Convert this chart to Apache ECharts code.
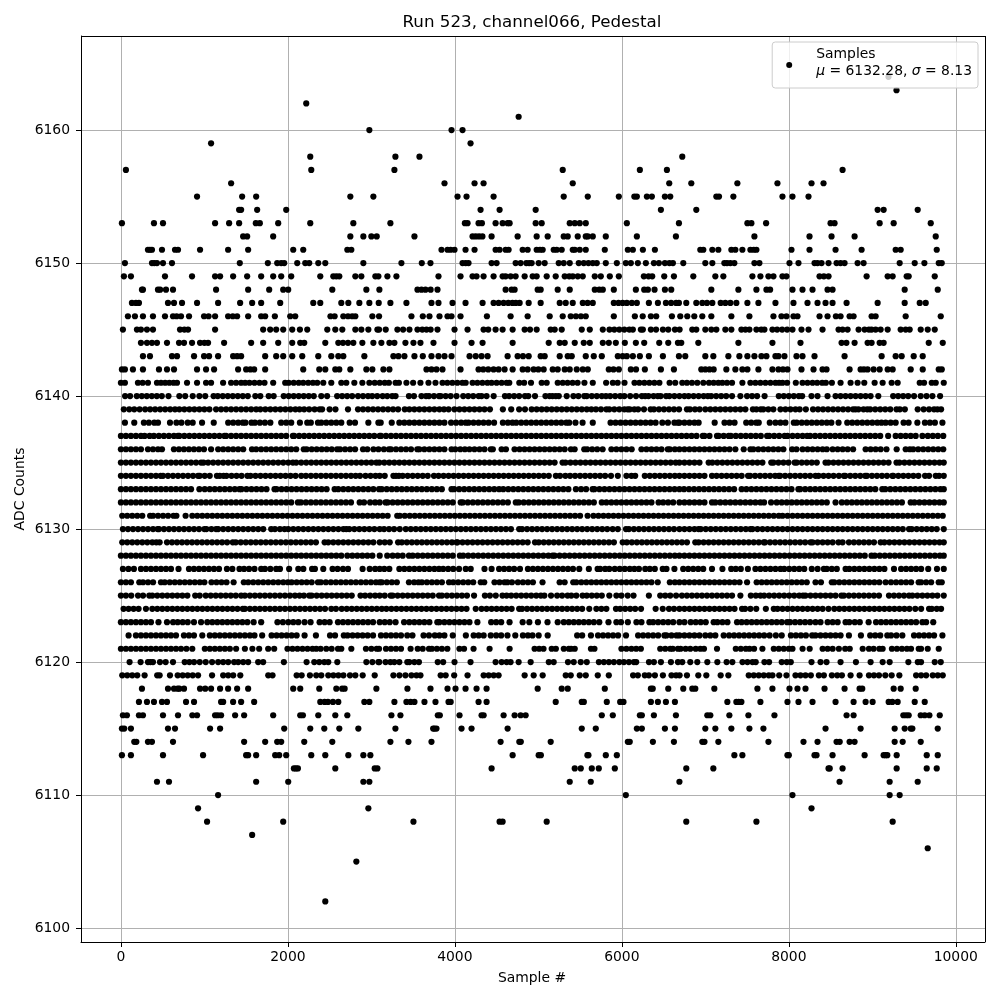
<!DOCTYPE html>
<html><head><meta charset="utf-8"><title>Run 523</title>
<style>html,body{margin:0;padding:0;background:#fff}#c{width:1000px;height:1000px}</style>
<script src="https://cdn.jsdelivr.net/npm/echarts@6/dist/echarts.min.js"></script></head>
<body><div id="c"></div>
<script>
const xTicks=[0,2000,4000,6000,8000,10000];
const yTicks=[6100,6110,6120,6130,6140,6150,6160];
const r6164=[9194],r6163=[9290],r6162=[2220],r6161=[4764],r6160=[2976,3960,4092],r6159=[1080,4188],r6158=[2268,3288,3576,6724];
const r6157=[60,2280,3276,5292,6216,6540,8644];
const r6156=[1320,3876,4236,4344,5412,6568,6832,7384,7864,8272,8416];
const r6155=[912,1452,1620,2748,3024,4032,4140,4464,5304,5592,5964,6150,6180,6300,6360,6516,6580,7132,7164,7336,7924,8044,8236];
const r6154=[1416,1440,1632,1980,4308,4536,4968,6468,6892,9064,9136,9544];
const r6153=[12,396,504,1128,1296,1416,1616,1664,1884,2268,2784,3228,4120,4152,4284,4324,4488,4572,4632,4656,4968,5040,5376,5436,5496,5568,6060,6684,7504,7552,7728,8500,8548,9088,9256,9700];
const r6152=[1464,1512,1824,2748,2904,3000,3064,3516,4212,4250,4290,4330,4440,4752,4980,5112,5304,5352,5472,5568,5592,5652,5808,6180,6648,7588,8248,8512,8788,9760];
const r6151=[324,348,372,492,648,684,948,1284,1524,2064,2184,2712,2760,3840,3912,3950,3996,4128,4236,4488,4536,4608,4644,4812,4872,4980,5020,5052,5184,5220,5280,5412,5436,5496,5568,5796,6072,6132,6252,6396,6940,6976,7084,7156,7312,7360,7444,7540,7580,7612,8032,8248,8560,8872,9280,9340,9772];
const r6150=[48,372,400,432,504,612,1424,1760,1872,1920,1956,2112,2208,2256,2364,2448,2904,3360,3604,3708,4092,4130,4164,4440,4500,4728,4788,4856,4890,4920,5004,5076,5244,5304,5376,5484,5544,5600,5652,5700,5808,5940,6048,6108,6192,6288,6384,6444,6516,6570,6612,6736,7000,7084,7228,7260,7300,7348,7588,7648,8008,8116,8308,8344,8392,8476,8572,8620,8668,8824,8896,9328,9508,9624,9796,9832];
const r6149=[36,120,528,852,1128,1188,1344,1512,1680,1824,1920,2040,2388,2544,2580,2616,2808,2880,3048,3084,3192,3300,3804,4068,4212,4260,4344,4464,4572,4608,4668,4728,4836,4932,4980,5100,5208,5316,5370,5412,5472,5532,5676,5748,5856,5964,6264,6320,6364,6508,6624,6856,7120,7216,7564,7660,7756,7816,7924,7972,8368,8420,8476,8932,9184,9244,9412,9436,9748];
const r6148=[252,264,444,470,540,624,1140,1524,1776,1944,2004,2532,2940,3096,3552,3600,3648,3710,3792,4608,4680,4716,4992,5028,5232,5376,5676,5730,5772,5904,6168,6268,6312,6392,6516,6592,7072,7396,7612,7732,7776,8044,8164,8284,8464,8524,9388,9784];
const r6147=[132,180,216,564,636,732,912,1164,1428,1572,1680,1908,2304,2388,2640,2724,2856,2976,3088,3228,3420,3720,3804,3972,4128,4332,4464,4524,4584,4640,4690,4730,4776,4884,5028,5256,5328,5412,5532,5590,5652,5904,5960,6010,6060,6120,6180,6324,6432,6528,6590,6650,6684,6772,6892,6964,7020,7084,7184,7240,7300,7372,7504,7636,7840,8056,8224,8344,8440,8524,8692,9064,9388,9568,9640];
const r6146=[84,168,264,384,528,624,668,720,816,996,1050,1128,1284,1340,1392,1524,1680,1728,1844,2028,2088,2510,2560,2664,2720,2770,2808,3012,3092,3480,3616,3696,3816,3912,3960,4068,4384,4668,4872,5136,5292,5388,5450,5510,5568,5904,6156,6250,6348,6412,6600,6700,6784,6868,6964,7072,7312,7528,7816,7912,7972,8056,8104,8368,8464,8564,8620,8728,8776,8992,9040,9400,9820];
const r6145=[24,192,240,312,384,708,760,804,1128,1704,1788,1860,1944,2052,2144,2232,2472,2568,2652,2808,2880,2964,3072,3092,3172,3312,3380,3456,3552,3610,3660,3710,3792,3996,4152,4344,4400,4488,4572,4692,4836,4900,4980,5148,5196,5280,5520,5616,5772,5852,5910,5970,6030,6090,6132,6228,6252,6348,6410,6492,6556,6636,6692,6844,6892,7000,7072,7132,7240,7312,7432,7480,7528,7612,7670,7708,7804,7860,7920,7980,8044,8152,8236,8404,8596,8644,8704,8836,8908,8960,8992,9040,9100,9184,9340,9400,9448,9580,9664,9748];
const r6144=[240,312,372,432,552,696,756,852,948,1000,1044,1236,1560,1704,1884,2052,2148,2196,2448,2604,2660,2720,2784,2892,3024,3120,3216,3276,3408,3504,3588,3744,3996,4200,4332,4692,5124,5256,5316,5436,5544,5616,5772,5844,5928,6036,6168,6268,6448,6556,6672,6712,6916,7396,7804,8140,8632,8690,8788,8944,8992,9088,9136,9676,9844];
const r6143=[264,348,612,672,876,996,1056,1164,1344,1392,1440,1728,1860,1944,2052,2172,2364,2520,2604,2664,2916,3264,3324,3396,3516,3616,3720,3804,3876,3960,4176,4250,4320,4392,4632,4752,4816,4884,5028,5076,5256,5352,5400,5568,5664,5760,5952,6010,6060,6132,6216,6324,6492,6684,6760,7000,7096,7276,7408,7504,7588,7672,7732,7840,7876,7948,8092,8164,8308,8668,9112,9280,9352,9496,9604];
const r6142=[12,48,144,264,456,552,636,912,1020,1116,1404,1500,1550,1596,1728,2184,2376,2448,2568,2616,2748,2940,3012,3144,3216,3660,3720,3780,3852,4068,4284,4340,4400,4464,4524,4596,4692,4812,4872,4944,5000,5064,5172,5232,5316,5376,5460,5532,5592,5844,5900,5964,6108,6170,6276,6468,6624,6952,7000,7050,7100,7252,7360,7444,7504,7636,7804,7876,7930,7984,8152,8296,8404,8452,8728,8860,8900,8944,9016,9088,9184,9244,9460,9604,9796,9832];
const r6141=[0,48,204,260,324,432,480,530,580,630,672,792,912,1020,1080,1224,1320,1380,1440,1488,1540,1600,1660,1720,1824,1968,2010,2070,2130,2184,2244,2300,2352,2424,2520,2640,2700,2796,2892,2976,3040,3100,3160,3210,3290,3330,3420,3500,3588,3684,3768,3852,3910,3970,4030,4090,4130,4212,4270,4330,4390,4440,4500,4560,4620,4652,4772,4830,4912,5040,5100,5232,5292,5350,5410,5470,5552,5652,5812,5892,5950,6032,6152,6210,6270,6330,6390,6450,6572,6640,6724,6780,6840,6904,6976,7044,7100,7156,7204,7260,7320,7444,7540,7600,7660,7720,7780,7840,7884,7924,7980,8084,8164,8224,8284,8340,8400,8444,8516,8620,8740,8824,8904,9028,9124,9232,9304,9568,9620,9712,9760,9856];
const r6140=[50,110,190,250,310,370,430,490,570,700,770,860,940,1010,1110,1160,1220,1280,1340,1400,1460,1520,1610,1670,1770,1830,1950,2010,2070,2130,2190,2250,2310,2400,2470,2590,2650,2710,2770,2840,2900,2960,3010,3070,3135,3190,3250,3290,3450,3510,3600,3655,3690,3750,3810,3830,3890,3950,4020,4100,4160,4220,4285,4320,4380,4465,4600,4650,4710,4770,4840,4880,4960,5085,5135,5170,5210,5245,5340,5420,5480,5550,5580,5640,5700,5760,5810,5860,5920,5980,6030,6100,6170,6240,6280,6320,6380,6430,6465,6530,6570,6630,6690,6750,6800,6860,6920,6980,7030,7070,7130,7190,7250,7320,7420,7500,7560,7620,7710,7880,7940,8000,8060,8120,8160,8272,8344,8464,8560,8620,8680,8740,8800,8860,8920,8980,9072,9250,9310,9370,9430,9500,9580,9650,9720,9812];
const r6139=[35,100,160,224,290,350,410,470,530,590,648,700,760,820,880,940,1000,1060,1140,1200,1260,1320,1380,1440,1500,1560,1620,1670,1730,1790,1850,1910,1970,2030,2090,2140,2195,2255,2320,2380,2410,2500,2570,2720,2840,2900,2960,3020,3080,3140,3200,3260,3320,3400,3455,3515,3575,3635,3695,3755,3815,3870,3925,3995,4055,4115,4175,4235,4295,4355,4420,4575,4675,4770,4840,4920,4980,5040,5100,5160,5220,5280,5340,5400,5460,5520,5580,5635,5690,5750,5815,5850,5910,5970,6030,6070,6095,6150,6195,6265,6345,6385,6445,6505,6565,6625,6685,6780,6816,6876,6932,7000,7060,7120,7180,7240,7300,7360,7420,7480,7570,7612,7664,7695,7755,7815,7900,7960,8020,8080,8130,8204,8290,8350,8410,8470,8530,8590,8650,8710,8770,8800,8835,8895,8940,8975,9035,9095,9155,9215,9290,9330,9390,9544,9615,9680,9740,9780,9824];
const r6138=[48,160,275,335,400,444,588,665,725,800,860,972,1112,1285,1345,1405,1460,1492,1564,1605,1665,1725,1790,1920,1980,2040,2144,2232,2275,2360,2400,2460,2520,2580,2640,2740,2804,2964,3084,3112,3244,3335,3395,3455,3515,3575,3635,3695,3755,3815,3875,3955,4015,4075,4130,4164,4224,4284,4344,4404,4470,4575,4635,4690,4735,4795,4855,4915,4975,5035,5095,5155,5215,5275,5335,5370,5445,5530,5652,5865,5925,5985,6045,6105,6165,6225,6285,6345,6405,6485,6552,6630,6672,6690,6750,6810,6870,6920,7112,7230,7290,7350,7490,7550,7610,7640,7772,7840,7900,7960,8060,8095,8155,8215,8275,8335,8395,8455,8510,8596,8700,8760,8820,8880,8940,9000,9060,9110,9160,9220,9280,9375,9435,9540,9630,9690,9750,9840];
const r6137=[0,60,120,180,240,284,344,395,455,515,575,635,684,700,760,820,880,940,1000,1060,1120,1180,1240,1260,1320,1380,1440,1500,1560,1620,1680,1740,1800,1860,1920,1980,2060,2075,2135,2195,2255,2315,2375,2435,2495,2555,2615,2675,2735,2795,2855,2915,2975,3035,3100,3115,3175,3235,3295,3355,3415,3475,3535,3595,3655,3715,3775,3835,3895,3955,4015,4075,4135,4195,4255,4315,4375,4435,4495,4555,4615,4675,4735,4795,4855,4915,4975,5035,5095,5155,5215,5275,5335,5395,5455,5515,5575,5635,5695,5755,5815,5875,5935,5995,6055,6115,6175,6235,6295,6355,6415,6475,6535,6595,6655,6715,6775,6835,6895,6970,6990,7050,7140,7160,7220,7280,7305,7365,7425,7485,7545,7605,7665,7740,7765,7825,7885,7950,7985,8045,8105,8165,8220,8255,8315,8375,8435,8495,8555,8615,8675,8735,8795,8855,8915,8975,9035,9095,9190,9280,9340,9400,9460,9520,9600,9665,9725,9785,9850];
const r6136=[0,60,120,180,240,324,384,444,492,635,695,755,815,875,935,995,1080,1165,1225,1285,1345,1405,1465,1570,1620,1680,1740,1800,1860,1920,1980,2040,2100,2190,2225,2285,2345,2405,2465,2525,2590,2625,2685,2745,2805,2900,2952,3025,3085,3150,3210,3235,3295,3355,3415,3475,3550,3575,3635,3695,3755,3815,3875,3960,4005,4065,4120,4175,4235,4295,4355,4430,4455,4560,4612,4715,4775,4835,4895,4955,5015,5075,5135,5195,5255,5315,5390,5435,5550,5585,5645,5705,5770,5875,5935,5995,6055,6118,6235,6295,6355,6415,6475,6550,6575,6635,6690,6750,6810,6870,6930,6990,7050,7110,7170,7230,7290,7360,7460,7540,7575,7635,7695,7755,7815,7875,7935,8040,8092,8165,8225,8285,8345,8405,8455,8525,8585,8645,8705,8770,8920,8980,9040,9100,9170,9292,9400,9450,9490,9550,9610,9670,9730,9790,9850];
const r6135=[0,60,120,180,240,300,360,420,480,540,600,660,720,780,840,900,960,990,1045,1105,1165,1225,1285,1345,1405,1465,1525,1585,1645,1705,1765,1825,1885,1945,2005,2060,2100,2160,2220,2280,2340,2400,2460,2520,2580,2640,2700,2760,2820,2880,2940,3000,3060,3095,3155,3215,3275,3335,3395,3455,3515,3575,3635,3695,3755,3815,3875,3935,3995,4055,4115,4175,4235,4295,4355,4415,4475,4535,4595,4655,4715,4775,4835,4895,4955,5015,5075,5135,5195,5290,5325,5385,5445,5505,5565,5625,5685,5745,5805,5865,5925,5985,6045,6105,6165,6225,6285,6345,6405,6465,6525,6585,6645,6690,6750,6810,6870,6930,7040,7084,7144,7204,7264,7324,7384,7444,7504,7564,7624,7684,7790,7816,7876,7936,7996,8070,8095,8155,8215,8275,8335,8440,8475,8535,8595,8655,8715,8775,8835,8895,8955,9015,9075,9135,9195,9290,9325,9385,9445,9505,9565,9625,9685,9745,9805,9856];
const r6134=[0,60,120,180,240,300,360,420,476,504,564,624,684,744,804,864,924,944,1004,1064,1150,1184,1230,1265,1325,1385,1445,1515,1552,1612,1672,1732,1792,1852,1912,1972,2032,2092,2160,2216,2276,2336,2396,2456,2516,2576,2636,2696,2756,2812,2864,2930,2990,3050,3100,3160,3264,3295,3330,3375,3435,3495,3555,3615,3675,3750,3805,3865,3925,3985,4045,4105,4165,4225,4285,4345,4405,4465,4525,4585,4645,4705,4765,4825,4885,4945,5005,5065,5125,5210,5260,5324,5380,5440,5500,5560,5620,5680,5740,5800,5870,5952,6055,6115,6160,6275,6335,6395,6455,6515,6575,6635,6690,6750,6810,6870,6930,6990,7080,7135,7195,7255,7315,7375,7435,7512,7536,7596,7656,7716,7776,7836,7880,7896,7956,8016,8076,8136,8196,8256,8320,8356,8416,8476,8536,8600,8660,8676,8736,8796,8856,8915,8936,8996,9056,9116,9176,9240,9252,9312,9372,9432,9492,9552,9632,9680,9760,9800,9856];
const r6133=[0,60,120,180,240,300,360,420,480,540,600,660,720,780,840,940,1004,1064,1124,1184,1244,1304,1364,1420,1444,1504,1564,1624,1684,1744,1840,1864,1924,1984,2044,2104,2164,2224,2284,2344,2404,2464,2560,2604,2664,2724,2784,2844,2904,2964,3024,3092,3124,3184,3244,3304,3364,3424,3484,3544,3604,3664,3724,3784,3844,3960,3992,4052,4112,4172,4232,4292,4352,4412,4472,4530,4580,4640,4700,4760,4820,4880,4940,5000,5060,5120,5180,5240,5300,5360,5450,5512,5572,5650,5672,5732,5792,5852,5912,5972,6032,6092,6152,6212,6272,6332,6392,6452,6512,6572,6632,6690,6745,6805,6865,6925,6985,7045,7105,7165,7225,7285,7345,7435,7492,7552,7612,7672,7732,7792,7852,7912,7972,8032,8115,8136,8196,8256,8316,8376,8436,8496,8556,8616,8676,8736,8796,8856,8916,8976,9036,9120,9156,9216,9276,9336,9396,9456,9516,9576,9636,9696,9756,9816,9856];
const r6132=[0,60,120,180,240,300,360,420,480,540,600,660,720,780,840,900,960,1020,1080,1140,1200,1260,1320,1380,1440,1500,1560,1620,1680,1740,1800,1860,1920,1980,2040,2120,2156,2216,2276,2336,2396,2456,2516,2576,2636,2696,2756,2860,2912,2985,3045,3100,3170,3195,3255,3315,3375,3435,3495,3555,3615,3675,3735,3795,3855,3915,3975,4070,4095,4155,4215,4275,4335,4395,4455,4515,4575,4635,4730,4765,4825,4885,4945,5005,5065,5125,5185,5245,5305,5365,5425,5485,5545,5605,5665,5760,5815,5875,5935,5995,6055,6115,6175,6235,6295,6355,6440,6495,6555,6615,6690,6750,6810,6870,6930,6990,7080,7120,7180,7240,7300,7360,7420,7480,7540,7600,7660,7704,7788,7855,7915,7975,8035,8095,8155,8215,8275,8335,8395,8455,8560,8635,8695,8755,8815,8875,8935,8995,9055,9115,9175,9235,9295,9355,9460,9505,9565,9625,9685,9745,9805,9856];
const r6131=[16,76,136,196,256,350,385,445,505,565,630,665,775,855,915,975,1035,1095,1155,1215,1275,1335,1395,1455,1515,1575,1635,1695,1755,1815,1875,1935,1995,2055,2115,2175,2235,2295,2355,2415,2475,2535,2595,2655,2715,2775,2835,2895,2955,3015,3075,3135,3195,3310,3340,3400,3460,3520,3580,3640,3700,3760,3820,3880,3940,4000,4060,4120,4180,4240,4300,4360,4420,4480,4540,4600,4660,4720,4780,4840,4900,4960,5020,5080,5140,5200,5260,5320,5380,5440,5500,5590,5660,5720,5780,5840,5900,5960,6020,6080,6140,6200,6260,6320,6380,6440,6500,6560,6620,6680,6740,6800,6860,6920,6980,7040,7100,7160,7220,7280,7340,7400,7460,7520,7580,7640,7700,7760,7820,7880,7925,7985,8045,8105,8165,8225,8285,8345,8405,8465,8525,8585,8645,8705,8765,8825,8885,8945,9005,9065,9125,9185,9245,9305,9365,9425,9485,9545,9605,9665,9725,9785,9844];
const r6130=[24,85,145,205,265,325,385,440,456,516,576,636,696,756,816,876,936,1000,1024,1084,1140,1165,1225,1285,1345,1405,1465,1525,1585,1645,1705,1800,1845,1905,1960,2005,2065,2125,2185,2245,2305,2365,2425,2485,2545,2605,2665,2700,2736,2796,2856,2916,2976,3036,3100,3152,3212,3272,3340,3412,3472,3532,3592,3652,3712,3772,3832,3892,3952,4012,4072,4132,4192,4252,4312,4372,4432,4492,4552,4612,4672,4770,4805,4865,4925,4985,5045,5105,5165,5225,5285,5345,5405,5465,5525,5585,5645,5705,5765,5825,5890,5952,6050,6085,6145,6205,6265,6325,6385,6445,6505,6565,6625,6690,6750,6810,6870,6920,6945,7005,7065,7125,7185,7245,7305,7365,7425,7485,7540,7565,7625,7685,7745,7805,7865,7925,7985,8045,8105,8165,8225,8285,8345,8405,8465,8525,8585,8645,8705,8765,8825,8885,8945,9005,9065,9125,9185,9245,9305,9365,9440,9472,9532,9592,9652,9712,9772,9856];
const r6129=[16,76,136,196,256,316,376,424,464,552,612,672,732,792,852,912,972,1032,1092,1152,1212,1272,1340,1376,1436,1496,1556,1616,1676,1736,1796,1856,1916,1976,2036,2096,2156,2216,2276,2336,2440,2484,2544,2604,2664,2724,2784,2844,2904,2964,3024,3100,3160,3220,3320,3365,3425,3485,3545,3605,3665,3725,3785,3845,3905,3965,4020,4032,4092,4152,4212,4272,4332,4392,4452,4512,4572,4632,4692,4752,4812,4872,4960,5005,5065,5125,5185,5245,5305,5365,5425,5485,5545,5605,5665,5725,5785,5845,5905,6010,6060,6120,6180,6240,6300,6360,6420,6480,6540,6600,6660,6720,6780,6880,6920,6980,7040,7100,7160,7220,7280,7340,7400,7460,7520,7580,7640,7700,7716,7776,7836,7896,7956,8016,8076,8136,8196,8260,8285,8345,8405,8465,8525,8595,8644,8720,8780,8840,8900,8960,9020,9100,9145,9205,9265,9325,9385,9445,9505,9565,9625,9685,9745,9805,9856];
const r6128=[0,60,120,180,240,300,360,420,480,540,600,660,720,780,840,900,960,1020,1080,1140,1200,1260,1320,1380,1440,1500,1560,1620,1680,1740,1800,1860,1920,1980,2040,2100,2160,2220,2280,2340,2400,2460,2520,2580,2640,2712,2772,2832,2892,2952,3012,3100,3190,3255,3315,3375,3450,3495,3555,3615,3675,3735,3795,3855,3915,3975,4060,4100,4160,4220,4280,4340,4400,4460,4520,4580,4640,4700,4760,4820,4880,4940,5000,5060,5120,5170,5195,5255,5315,5375,5435,5495,5555,5615,5675,5735,5795,5855,5915,5975,6035,6095,6155,6215,6275,6335,6395,6455,6515,6575,6635,6690,6750,6810,6870,6930,6990,7050,7110,7170,7230,7290,7350,7410,7470,7530,7590,7650,7710,7770,7830,7890,7950,8010,8070,8130,8190,8250,8310,8370,8430,8490,8550,8610,8670,8730,8790,8850,8910,8990,9030,9090,9150,9210,9270,9330,9390,9450,9510,9570,9630,9690,9750,9810,9856];
const r6127=[24,90,156,240,300,360,420,480,540,600,690,815,875,935,995,1055,1115,1175,1270,1335,1420,1475,1535,1600,1680,1725,1790,1860,1905,2015,2125,2185,2290,2324,2424,2535,2595,2660,2720,2895,2980,3045,3100,3155,3215,3335,3395,3455,3515,3575,3635,3695,3755,3810,3860,3920,3980,4050,4130,4190,4355,4440,4530,4590,4650,4710,4780,4875,4935,4995,5055,5115,5175,5235,5295,5355,5415,5490,5605,5710,5740,5800,5850,5915,5975,6035,6095,6150,6205,6280,6335,6395,6490,6535,6630,6735,6795,6855,6915,6975,7080,7205,7310,7365,7425,7510,7600,7660,7720,7780,7840,7900,7945,8005,8065,8125,8185,8275,8345,8420,8455,8515,8575,8680,8725,8785,8845,8905,8965,9025,9085,9145,9260,9345,9405,9465,9525,9585,9670,9775,9856];
const r6126=[0,60,120,220,265,325,385,480,525,585,645,705,765,825,885,945,1000,1085,1145,1205,1265,1350,1472,1525,1585,1645,1705,1765,1825,1885,1945,2000,2045,2105,2165,2225,2285,2360,2395,2455,2515,2575,2635,2695,2755,2815,2875,2935,2995,3055,3100,3125,3185,3245,3305,3450,3512,3564,3605,3665,3725,3785,3845,3930,3980,4040,4100,4160,4220,4310,4352,4475,4535,4595,4630,4684,4755,4815,4875,4935,5050,5255,5315,5418,5455,5515,5575,5635,5695,5755,5815,5875,5935,5995,6055,6115,6175,6235,6295,6355,6430,6575,6635,6690,6750,6810,6870,6930,6990,7050,7110,7170,7230,7290,7350,7410,7500,7615,7675,7735,7795,7855,7915,7975,8035,8095,8155,8215,8320,8385,8515,8545,8605,8665,8725,8785,8845,8905,8965,9025,9085,9160,9224,9285,9345,9405,9465,9555,9585,9645,9705,9795,9832];
const r6125=[0,60,124,205,265,340,376,436,496,556,616,676,736,796,890,944,1016,1076,1136,1196,1256,1316,1376,1440,1485,1545,1605,1665,1725,1785,1845,1905,1965,2025,2085,2140,2192,2256,2285,2345,2405,2465,2525,2585,2645,2705,2765,2870,2925,2985,3045,3100,3160,3230,3255,3315,3375,3435,3495,3555,3615,3675,3735,3810,3845,3905,3965,4025,4085,4145,4230,4360,4420,4490,4570,4620,4675,4735,4795,4855,4915,4975,5030,5072,5152,5225,5285,5350,5395,5455,5530,5580,5640,5700,5760,5850,5935,5995,6070,6140,6324,6460,6520,6580,6650,6720,6780,6840,6900,6960,7020,7080,7140,7200,7260,7320,7420,7545,7605,7660,7705,7765,7825,7885,7945,8005,8065,8125,8170,8200,8260,8320,8380,8440,8500,8560,8630,8660,8720,8780,8840,8900,8960,9020,9080,9200,9260,9320,9380,9440,9480,9540,9600,9660,9720,9780,9856];
const r6124=[32,92,152,212,300,376,436,496,556,616,676,736,796,856,916,976,1036,1096,1156,1216,1276,1336,1396,1460,1485,1545,1605,1665,1725,1785,1845,1905,1965,2025,2085,2145,2205,2265,2325,2385,2445,2520,2576,2645,2705,2765,2825,2885,2945,3005,3065,3125,3180,3240,3300,3360,3420,3480,3540,3600,3660,3720,3780,3840,3900,3960,4020,4080,4140,4250,4320,4380,4440,4500,4560,4620,4680,4770,4805,4865,4925,4985,5045,5105,5165,5225,5285,5345,5405,5465,5525,5610,5695,5755,5815,5930,5980,6040,6100,6160,6230,6405,6490,6565,6625,6690,6750,6810,6870,6930,6990,7050,7110,7170,7230,7290,7350,7440,7476,7540,7610,7725,7820,7865,7925,7985,8045,8105,8165,8225,8285,8345,8405,8475,8545,8605,8665,8725,8785,8845,8905,8965,9025,9085,9145,9205,9265,9325,9385,9445,9515,9585,9680,9712,9772,9824];
const r6123=[0,60,120,180,240,300,360,450,552,625,680,740,800,875,960,1035,1095,1155,1215,1275,1335,1395,1455,1515,1590,1680,1875,1940,2005,2065,2125,2200,2272,2380,2440,2500,2600,2660,2720,2780,2840,2900,2960,3020,3100,3160,3220,3290,3392,3455,3515,3575,3635,3695,3790,3815,3875,3935,3995,4055,4115,4175,4270,4435,4495,4555,4655,4812,4892,4995,5110,5232,5305,5365,5425,5485,5545,5605,5665,5730,5840,5935,5990,6072,6175,6235,6330,6375,6435,6495,6555,6615,6690,6750,6825,6885,6945,7005,7100,7145,7205,7265,7380,7435,7495,7555,7615,7675,7735,7795,7855,7915,7980,8015,8075,8135,8195,8255,8320,8380,8465,8525,8585,8680,8725,8790,8850,8956,9045,9105,9165,9225,9285,9345,9405,9465,9525,9600,9645,9730];
const r6122=[92,180,240,300,360,420,480,540,600,660,755,815,875,975,1065,1125,1185,1245,1305,1365,1425,1485,1545,1600,1692,1805,1865,1925,1985,2045,2105,2200,2336,2505,2565,2670,2715,2775,2835,2895,2955,3020,3115,3175,3235,3295,3355,3430,3492,3625,3690,3760,3815,3875,3975,4132,4225,4285,4345,4430,4495,4555,4630,4724,4815,4875,4930,5004,5112,5465,5525,5630,5715,5775,5835,5895,5955,6050,6195,6255,6315,6375,6435,6510,6535,6595,6655,6690,6750,6810,6870,6930,7000,7060,7120,7220,7285,7345,7405,7465,7525,7585,7645,7705,7770,7845,7915,8025,8085,8145,8205,8280,8320,8380,8440,8500,8560,8620,8720,8864,8975,9035,9095,9180,9225,9290,9360,9500,9560,9620,9680,9740,9840];
const r6121=[0,60,120,180,240,300,360,420,480,540,600,660,720,785,855,1005,1065,1125,1185,1245,1305,1380,1485,1575,1656,1764,1836,1995,2055,2115,2175,2235,2295,2340,2392,2460,2524,2600,2640,2760,2935,3000,3064,3092,3175,3235,3295,3355,3470,3555,3615,3690,3725,3785,3845,3910,4055,4110,4224,4416,4656,4955,5010,5062,5160,5210,5305,5365,5392,5436,5630,5672,5995,6055,6115,6172,6228,6460,6520,6580,6610,6672,6704,6764,6820,6885,6940,6984,7140,7365,7425,7485,7530,7584,7684,7820,7880,7940,8000,8044,8165,8250,8405,8465,8525,8600,8675,8730,8885,8960,9016,9085,9124,9235,9295,9355,9415,9464,9556,9584,9664,9796];
const r6120=[104,236,324,354,384,468,536,624,764,820,876,944,1016,1092,1165,1225,1285,1356,1405,1465,1524,1644,1704,1952,2224,2316,2376,2436,2484,2592,2940,3012,3084,3095,3170,3228,3275,3335,3430,3455,3515,3570,3795,3860,3996,4188,4488,4560,4620,4668,4764,4908,5125,5184,5355,5424,5508,5580,5725,5785,5845,5905,5970,6025,6085,6145,6172,6325,6384,6468,6588,6672,6724,6820,6904,7024,7144,7255,7324,7445,7505,7565,7604,7708,7764,7915,7975,8024,8272,8380,8452,8620,8804,8980,9124,9208,9432,9545,9584,9748,9820];
const r6119=[16,76,136,196,284,435,464,588,680,740,800,860,924,1092,1225,1285,1345,1430,1765,1816,2105,2165,2264,2340,2400,2484,2545,2605,2665,2744,2808,2896,3040,3264,3336,3408,3480,3540,3588,3830,3890,3992,4152,4345,4405,4465,4524,4836,4944,5052,5328,5388,5496,5568,5712,5844,6135,6192,6275,6324,6396,6492,6595,6650,6692,6780,6916,7012,7184,7276,7520,7580,7640,7700,7760,7804,7885,7972,8080,8140,8200,8264,8360,8420,8516,8580,8636,8740,8848,8960,9020,9080,9156,9232,9324,9525,9585,9645,9724,9784,9844];
const r6118=[252,564,636,680,700,756,948,1010,1080,1188,1284,1392,1524,2064,2148,2376,2580,2650,2680,3060,3432,3708,3912,4008,4128,4260,4380,4992,5280,5352,5796,6348,6370,6556,6736,6844,6880,7108,7624,7804,8008,8104,8200,8428,8668,8848,8880,9256,9340,9520];
const r6117=[216,312,396,492,552,780,876,1200,1225,1344,1440,1596,2388,2440,2480,2540,2604,2916,2976,3276,3420,3470,3516,3636,3768,3924,3950,4284,4380,5208,5520,5545,5820,5980,6020,6348,6432,6528,6636,7264,7372,7400,7432,7660,7984,8116,8284,8560,8776,8920,9004,9196,9240,9304,9508,9628];
const r6116=[24,72,216,264,504,684,856,912,1128,1160,1200,1368,1476,1824,2148,2180,2364,2568,2712,3240,3348,3796,3820,4056,4320,4345,4584,4716,4788,4848,5760,5892,6216,6240,6384,6648,7024,7060,7288,7516,7828,8692,8776,9372,9405,9436,9580,9628,9684,9808];
const r6115=[12,40,120,564,648,1068,1188,1956,2268,2436,2616,2844,3288,3740,3756,3780,4080,4200,4632,5520,5688,6180,6240,6516,6636,7000,7120,7312,7528,7696,8440,8860,9268,9388,9460,9480,9784];
const r6114=[160,185,324,372,624,1476,1728,1872,1920,2196,2532,3228,3444,3720,4548,4772,4790,5148,6072,6095,6372,6624,6964,6990,7156,7756,8176,8344,8572,8610,8728,8788,9268,9364,9580];
const r6113=[12,120,504,984,1500,1524,1620,1848,1896,1980,2280,2448,2724,2904,2988,4692,5004,5030,5588,5600,5808,5940,7348,7444,7984,8000,8308,8332,8524,8908,9136,9160,9180,9292,9652,9784];
const r6112=[2072,2096,2120,2568,3040,3072,4440,5436,5508,5640,5724,5916,6772,7096,8476,8490,8644,9292,9652,9772];
const r6111=[432,576,1620,2004,2904,2976,5376,5628,6690,8608,9208,9544];
const r6110=[1164,6048,8044,9208,9328];
const r6109=[924,2964,8272];
const r6108=[1032,1944,3504,4536,4572,5100,6772,7612,9244];
const r6107=[1572],r6106=[9664],r6105=[2820],r6102=[2448];

const rows=[[6164,r6164],[6163,r6163],[6162,r6162],[6161,r6161],[6160,r6160],[6159,r6159],[6158,r6158],[6157,r6157],[6156,r6156],[6155,r6155],[6154,r6154],[6153,r6153],[6152,r6152],[6151,r6151],[6150,r6150],[6149,r6149],[6148,r6148],[6147,r6147],[6146,r6146],[6145,r6145],[6144,r6144],[6143,r6143],[6142,r6142],[6141,r6141],[6140,r6140],[6139,r6139],[6138,r6138],[6137,r6137],[6136,r6136],[6135,r6135],[6134,r6134],[6133,r6133],[6132,r6132],[6131,r6131],[6130,r6130],[6129,r6129],[6128,r6128],[6127,r6127],[6126,r6126],[6125,r6125],[6124,r6124],[6123,r6123],[6122,r6122],[6121,r6121],[6120,r6120],[6119,r6119],[6118,r6118],[6117,r6117],[6116,r6116],[6115,r6115],[6114,r6114],[6113,r6113],[6112,r6112],[6111,r6111],[6110,r6110],[6109,r6109],[6108,r6108],[6107,r6107],[6106,r6106],[6105,r6105],[6102,r6102]];
const samples=[];
rows.forEach(([adc,xs])=>xs.forEach(x=>samples.push([x,adc])));

const FONT='"DejaVu Sans"';
const chart=echarts.init(document.getElementById('c'),null,{renderer:'canvas'});
chart.setOption({
  animation:false,
  backgroundColor:'#fff',
  textStyle:{fontFamily:FONT},
  title:{text:'Run 523, channel066, Pedestal',left:527,top:9,textAlign:'center',
    textStyle:{fontFamily:FONT,fontSize:16.7,fontWeight:'normal',color:'#000'}},
  grid:{left:81,right:15,top:36,bottom:58,show:false},
  legend:{show:true,data:[{name:'Samples',icon:'circle'}],right:22,top:42,orient:'vertical',
    itemWidth:16,itemHeight:6,padding:[4,6,4,14],
    backgroundColor:'rgba(255,255,255,0.8)',borderColor:'#ccc',borderWidth:1,borderRadius:3,
    formatter:()=>'Samples\n{i|μ} = 6132.28, {i|σ} = 8.13',
    textStyle:{fontFamily:FONT,fontSize:13.9,color:'#000',lineHeight:17,padding:[0,0,4,14],
      rich:{i:{fontFamily:FONT,fontStyle:'italic',fontSize:13.9,color:'#000',lineHeight:17}}}},
  xAxis:{type:'value',min:-478,max:10350,position:'bottom',
    name:'Sample #',nameLocation:'middle',nameGap:29,
    nameTextStyle:{fontFamily:FONT,fontSize:13.9,color:'#000',padding:[0,2,0,0]},
    axisLine:{show:true,onZero:false,lineStyle:{color:'#000',width:1}},
    axisTick:{show:true,length:5,customValues:xTicks,lineStyle:{color:'#000',width:1}},
    axisLabel:{show:true,customValues:xTicks,showMinLabel:true,showMaxLabel:true,margin:8,fontFamily:FONT,fontSize:13.9,color:'#000',formatter:v=>String(v)},
    splitLine:{show:true,lineStyle:{color:'#b0b0b0',width:1}}},
  yAxis:{type:'value',min:6098.95,max:6167.07,
    name:'ADC Counts',nameLocation:'middle',nameGap:54,nameRotate:90,nameMoveOverlap:false,
    nameTextStyle:{fontFamily:FONT,fontSize:13.9,color:'#000'},
    axisLine:{show:true,onZero:false,lineStyle:{color:'#000',width:1}},
    axisTick:{show:true,length:5,customValues:yTicks,lineStyle:{color:'#000',width:1}},
    axisLabel:{show:true,customValues:yTicks,margin:11,fontFamily:FONT,fontSize:13.9,color:'#000',formatter:v=>String(v)},
    splitLine:{show:true,lineStyle:{color:'#b0b0b0',width:1}}},
  series:[
    {name:'Samples',type:'scatter',data:samples,symbol:'circle',symbolSize:6.2,itemStyle:{color:'#000',opacity:1},silent:true,progressive:0,z:3},
    {type:'line',data:[],silent:true,markLine:{silent:true,symbol:'none',label:{show:false},animation:false,
      lineStyle:{color:'#000',width:1,type:'solid'},
      data:[[{coord:[-478,6167.07]},{coord:[10350,6167.07]}],[{coord:[10350,6098.95]},{coord:[10350,6167.07]}]]}}
  ]
});
</script></body></html>
